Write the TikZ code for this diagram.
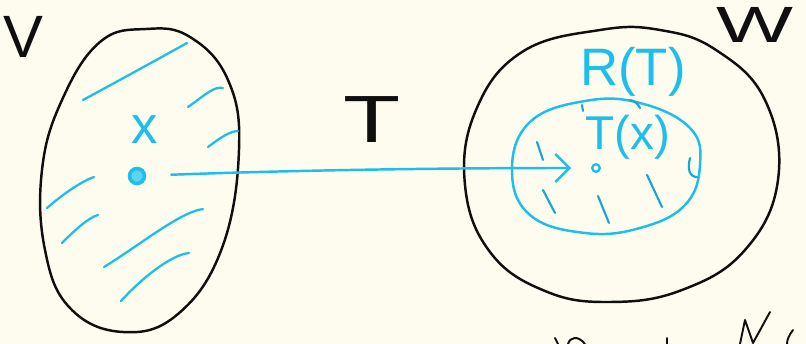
\documentclass[tikz,border=0pt]{standalone}
\usepackage{fontspec}
\setmainfont{Liberation Sans}
\usetikzlibrary{arrows.meta,positioning}
\definecolor{paper}{RGB}{253,252,238}
\definecolor{ink}{RGB}{15,15,15}
\definecolor{cyanpen}{RGB}{28,190,236}
\definecolor{tickpen}{RGB}{22,165,212}

\begin{document}
\begin{tikzpicture}[x=0.02cm,y=-0.02cm,
    outline/.style={draw=ink,line width=1.4pt,line cap=round,line join=round},
    blueline/.style={draw=cyanpen,line width=1.4pt,line cap=round,line join=round},
    hatch/.style={cyanpen,line width=1.3pt,line cap=round},
    tickmark/.style={tickpen,line width=1.2pt,line cap=round},
    handtext/.style={inner sep=0pt,font=\fontsize{#1}{#1}\selectfont}]
        \fill[paper] (0,0) rectangle (806,344);
        \useasboundingbox (0,0) rectangle (806,344);
        % space V
        \draw[outline] plot[smooth cycle,tension=0.7] coordinates {(146,29) (100,42) (62,100) (42,170) (45,250) (70,308) (123,332) (178,314) (222,248) (239,150) (228,80) (190,37)};
        \node[handtext=34,text=ink] (vname) at (23,37) {V};
        \draw[hatch] (83,100) .. controls (120,80) and (160,58) .. (187,43);
        \draw[hatch] (188,107) .. controls (205,95) and (214,86) .. (223,88);
        \draw[hatch] (208,147) .. controls (220,138) and (230,131) .. (238,131);
        \draw[hatch] (47,208) .. controls (62,195) and (80,182) .. (94,177);
        \draw[hatch] (62,243) .. controls (75,230) and (88,218) .. (98,215);
        \draw[hatch] (104,267) .. controls (140,245) and (180,212) .. (203,209);
        \draw[hatch] (121,301) .. controls (140,280) and (170,255) .. (189,253);
        \node[handtext=30,text=cyanpen] (xname) at (145,130) {x};
        \node[circle,draw=cyanpen,fill=cyanpen!70,line width=2pt,minimum size=0.3cm,inner sep=0pt] (xdot) at (137,176) {};
        % space W
        \draw[outline] plot[smooth cycle,tension=0.7] coordinates {(600,30) (522,52) (476,110) (465,185) (490,252) (545,291) (610,302) (682,290) (745,250) (778,180) (765,100) (716,50) (660,30)};
        \node[handtext=29,text=ink] (wname) at (755,25) {\scalebox{1.6}[1]{W}};
        % range R(T)
        \draw[blueline] plot[smooth cycle,tension=0.7] coordinates {(512,170) (530,122) (585,101) (640,103) (690,128) (700,165) (685,205) (640,228) (585,233) (530,215)};
        \node[handtext=30,text=cyanpen] (rname) at (633,72) {R(T)};
        \node[handtext=27,text=cyanpen] (txname) at (628,137) {T(x)};
        \draw[tickmark] (537,142) -- (543,160);
        \draw[tickmark] (543,190) -- (555,213);
        \draw[tickmark] (598,196) -- (609,223);
        \draw[tickmark] (647,175) -- (662,207);
        \draw[tickmark] (690,158) .. controls (687,170) and (690,177) .. (697,177);
        \draw[tickmark] (582,105) -- (583,111);
        \draw[tickmark] (630,100) .. controls (635,101) and (638,104) .. (640,108);
        \node[circle,draw=cyanpen,fill=paper,line width=1.3pt,minimum size=0.15cm,inner sep=0pt] (txdot) at (596,168) {};
        % the map T
        \node[handtext=38,text=ink] (tname) at (372,120) {\scalebox{1.4}[1]{T}};
        \draw[blueline,-{Straight Barb[length=8pt,width=16pt]},shorten <=0.5cm,shorten >=0.4cm] (xdot) .. controls (300,170) and (450,168) .. (txdot);
        % cut-off writing at the bottom
        \draw[outline,line width=1.1pt] (555,338) -- (558,344);
        \draw[outline,line width=1.1pt] (568,344) .. controls (570,337) and (578,335) .. (585,344);
        \draw[outline,line width=1.1pt] (667,338) -- (667,344);
        \draw[outline,line width=1.1pt] (740,344) -- (745,320) -- (753,343) -- (770,312);
        \draw[outline,line width=1.1pt] (793,330) .. controls (789,335) and (787,340) .. (787,344);
    \end{tikzpicture}
\end{document}
